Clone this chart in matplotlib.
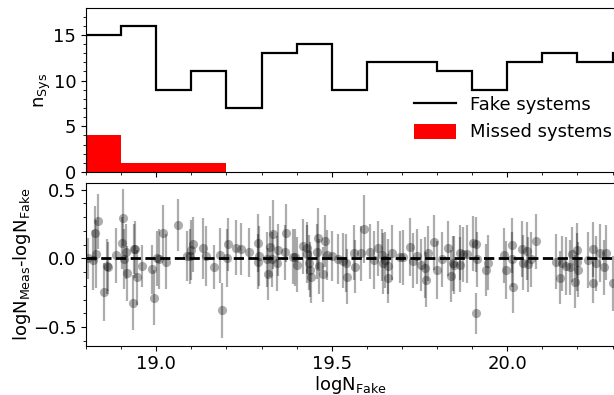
import matplotlib
matplotlib.use("Agg")
import matplotlib.pyplot as plt
import numpy as np

# ---- data ----
bin_edges = [18.8, 18.9, 19.0, 19.1, 19.2, 19.3, 19.4, 19.5, 19.6, 19.7,
             19.8, 19.9, 20.0, 20.1, 20.2, 20.3, 20.4]
fake_counts = [15, 16, 9, 11, 7, 13, 14, 9, 12, 12, 11, 9, 12, 13, 12, 13]
missed_edges = [18.8, 18.9, 19.0, 19.1, 19.2]
missed_counts = [4, 1, 1, 1]

logN_fake = [18.807, 18.821, 18.826, 18.828, 18.833, 18.852, 18.859, 18.862, 18.885, 18.904,
             18.902, 18.909, 18.913, 18.916, 18.933, 18.938, 18.941, 18.944, 18.959, 18.987,
             18.995, 19.001, 19.008, 19.020, 19.027, 19.063, 19.087, 19.096, 19.100, 19.106,
             19.134, 19.141, 19.165,
             19.182, 19.188, 19.201, 19.205, 19.227, 19.241, 19.265, 19.289, 19.291, 19.294,
             19.315, 19.319, 19.324, 19.329, 19.334, 19.343, 19.348, 19.370, 19.367, 19.391,
             19.395, 19.402, 19.419, 19.429, 19.431, 19.436, 19.438, 19.440, 19.457, 19.462,
             19.464, 19.476, 19.481, 19.486, 19.500, 19.519,
             19.533, 19.541, 19.543, 19.564, 19.566, 19.583, 19.592, 19.609, 19.621, 19.631,
             19.642, 19.645, 19.652, 19.660, 19.661, 19.671, 19.695, 19.704, 19.723, 19.732,
             19.742, 19.754, 19.766, 19.768, 19.775, 19.791, 19.799, 19.815, 19.832, 19.840,
             19.846, 19.849, 19.866, 19.875,
             19.866, 19.885, 19.902, 19.910, 19.911, 19.915, 19.939, 19.944, 19.991, 19.997,
             20.013, 20.015, 20.017, 20.041, 20.046, 20.056, 20.058, 20.067, 20.082, 20.139,
             20.150, 20.155, 20.168, 20.179, 20.184, 20.193, 20.198, 20.200, 20.203, 20.231,
             20.244, 20.245, 20.253, 20.264, 20.276, 20.281, 20.301]

dlogN = [0.0, -0.012, 0.181, 0.031, 0.27, -0.242, -0.056, -0.06, 0.024, 0.297,
         0.109, -0.005, 0.048, -0.109, -0.321, 0.068, 0.065, -0.138, -0.056, -0.08,
         -0.285, 0.0, -0.005, 0.186, -0.024, 0.242, 0.017, 0.017, 0.060, 0.101,
         0.072, 0.017, -0.065,
         0.024, -0.379, 0.0, 0.101, 0.077, 0.068, 0.043, -0.024, 0.114, 0.017,
         -0.007, -0.116, 0.085, -0.007, 0.176, -0.036, 0.060, 0.186, 0.043, 0.012,
         0.007, -0.048, 0.089, 0.077, 0.031, -0.031, -0.084, -0.133, 0.048, 0.145,
         -0.056, -0.116, 0.128, 0.024, 0.017, -0.005,
         -0.019, -0.036, -0.133, 0.041, -0.060, 0.036, 0.213, 0.048, -0.012, 0.072,
         0.024, -0.036, -0.012, -0.145, -0.056, 0.041, 0.012, 0.007, 0.085, -0.019,
         0.017, -0.048, -0.068, -0.157, 0.036, 0.116, -0.084, -0.007, 0.072, -0.128,
         -0.036, -0.048, 0.041, 0.031,
         -0.048, 0.031, 0.109, 0.104, -0.399, -0.005, -0.084, -0.031, 0.024, -0.084,
         0.097, -0.005, -0.206, 0.068, -0.031, 0.053, -0.043, -0.007, 0.126, -0.024,
         -0.140, -0.036, -0.056, -0.065, 0.031, -0.169, 0.060, -0.024, -0.084, -0.012,
         -0.177, 0.065, -0.036, 0.041, -0.065, 0.041, -0.181]

dlogN_err = [0.15, 0.22, 0.20, 0.25, 0.20, 0.21, 0.20, 0.18, 0.20, 0.21,
             0.19, 0.22, 0.20, 0.20, 0.20, 0.18, 0.21, 0.20, 0.15, 0.18,
             0.20, 0.20, 0.22, 0.20, 0.20, 0.19, 0.18, 0.20, 0.22, 0.20,
             0.22, 0.22, 0.16,
             0.20, 0.20, 0.21, 0.19, 0.20, 0.19, 0.18, 0.20, 0.21, 0.22,
             0.20, 0.19, 0.22, 0.20, 0.25, 0.20, 0.19, 0.21, 0.20, 0.20,
             0.21, 0.20, 0.20, 0.19, 0.21, 0.20, 0.20, 0.19, 0.20, 0.22,
             0.20, 0.20, 0.19, 0.18, 0.18, 0.18,
             0.20, 0.21, 0.20, 0.20, 0.19, 0.20, 0.25, 0.20, 0.21, 0.20,
             0.19, 0.22, 0.20, 0.18, 0.20, 0.20, 0.19, 0.20, 0.21, 0.20,
             0.20, 0.19, 0.22, 0.20, 0.20, 0.20, 0.21, 0.20, 0.20, 0.19,
             0.20, 0.21, 0.20, 0.20,
             0.20, 0.21, 0.20, 0.20, 0.15, 0.20, 0.19, 0.20, 0.20, 0.21,
             0.20, 0.20, 0.19, 0.20, 0.20, 0.21, 0.20, 0.20, 0.20, 0.20,
             0.19, 0.20, 0.21, 0.20, 0.20, 0.19, 0.20, 0.21, 0.20, 0.20,
             0.15, 0.20, 0.20, 0.21, 0.20, 0.20, 0.20]

# ---- figure ----
plt.rcParams['font.size'] = 13
plt.rcParams['mathtext.default'] = 'regular'
W, H = 614, 395
fig = plt.figure(figsize=(W / 100, H / 100), dpi=100)

left = 86 / W
xmax = 21.0
width = (xmax - 18.8) * 351 / W
wpx = width * W

ax1 = fig.add_axes([left, 1 - 172 / H, width, (172 - 8.4) / H])
ax2 = fig.add_axes([left, 1 - 345.7 / H, width, (345.7 - 182.7) / H])

# top panel
ax1.stairs(missed_counts, missed_edges, fill=True, color='red', label='Missed systems')
ax1.stairs(fake_counts, bin_edges, color='black', lw=1.6, label='Fake systems')
ax1.set_xlim(18.8, xmax)
ax1.set_ylim(0, 17.9)
ax1.set_yticks([0, 5, 10, 15])
ax1.yaxis.set_minor_locator(matplotlib.ticker.MultipleLocator(1))
ax1.xaxis.set_major_locator(matplotlib.ticker.MultipleLocator(0.5))
ax1.xaxis.set_minor_locator(matplotlib.ticker.MultipleLocator(0.1))
ax1.tick_params(axis='x', labelbottom=False)
ax1.set_ylabel(r'n$_{\rm Sys}$')
h, l = ax1.get_legend_handles_labels()
ax1.legend(h[::-1], l[::-1], loc='upper left', frameon=False,
           bbox_to_anchor=(407 / W, 1 - 89 / H), bbox_transform=fig.transFigure,
           borderaxespad=0, handlelength=2.3, handleheight=0.9)

# bottom panel
ax2.errorbar(logN_fake, dlogN, yerr=dlogN_err, fmt='o', color='k', ms=6.6,
             alpha=0.32, elinewidth=1.6, capsize=0, mew=0)
ax2.axhline(0, color='black', ls='--', lw=2)
ax2.set_xlim(18.8, xmax)
ax2.set_ylim(-0.635, 0.55)
ax2.set_yticks([-0.5, 0.0, 0.5])
ax2.yaxis.set_minor_locator(matplotlib.ticker.MultipleLocator(0.1))
ax2.set_xticks([19.0, 19.5, 20.0])
ax2.xaxis.set_minor_locator(matplotlib.ticker.MultipleLocator(0.1))
ax2.set_xlabel(r'logN$_{\rm Fake}$')
ax2.set_ylabel(r'logN$_{\rm Meas}$-logN$_{\rm Fake}$')

ax1.yaxis.set_label_coords((53 - 86) / wpx, 0.5)
ax2.yaxis.set_label_coords((33 - 86) / wpx, 0.5)
ax2.xaxis.set_label_coords((350 - 86) / wpx, -(374 - 345.7) / 163.0)

fig.savefig('out.png', dpi=100)
